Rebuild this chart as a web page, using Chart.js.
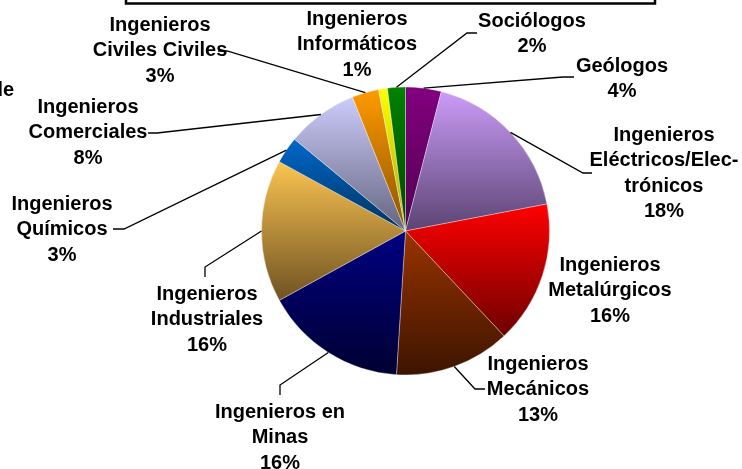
<!DOCTYPE html>
<html lang="es">
<head>
  <meta charset="UTF-8">
  <title>Distribución por profesión</title>
  <script src="https://cdn.jsdelivr.net/npm/chart.js"></script>
  <style>
    html, body { margin: 0; padding: 0; background: #fff; }
    canvas { display: block; }
  </style>
</head>
<body>
  <canvas id="pieChart" width="742" height="469"></canvas>

  <script>
    // Datos (en el sentido de las agujas del reloj desde las 12)
    const categories = [
      ['Geólogos'],
      ['Ingenieros', 'Eléctricos/Elec-', 'trónicos'],
      ['Ingenieros', 'Metalúrgicos'],
      ['Ingenieros', 'Mecánicos'],
      ['Ingenieros en', 'Minas'],
      ['Ingenieros', 'Industriales'],
      ['Ingenieros', 'Químicos'],
      ['Ingenieros', 'Comerciales'],
      ['Ingenieros', 'Civiles Civiles'],
      ['Ingenieros', 'Informáticos'],
      ['Sociólogos']
    ];
    const values = [4, 18, 16, 13, 16, 16, 3, 8, 3, 1, 2];

    // Colores: degradado vertical por sector (arriba claro -> abajo oscuro)
    const colorsTop = ['#82007f', '#cc9cf9', '#ff0000', '#9a3300', '#000082', '#fcc452',
                       '#0068cc', '#ccccfc', '#ff9a00', '#ffff00', '#008200'];
    const colorsBottom = ['#520050', '#5a4472', '#6e0000', '#3c1400', '#000032', '#6e5222',
                          '#00335e', '#64647e', '#8a5200', '#a8a800', '#004400'];

    // Posición de las etiquetas: centro x, primera línea base
    const labelPos = [[622, 72], [664, 141], [610, 271], [538, 370], [280, 418], [207, 300],
                      [62, 210], [88, 113], [160, 31], [357, 25], [532, 27]];
    // Líneas guía: codo y extremo (null = sin línea)
    const leaders = [
      [[563, 77], [574, 77]],
      [[583, 173], [592, 173]],
      null,
      [[475, 389], [485, 389]],
      [[280, 385], [280, 395]],
      [[205, 267], [205, 277]],
      [[124, 229], [113, 229]],
      [[157, 133], [148, 133]],
      [[227, 51], [218, 51]],
      null,
      [[467, 33], [477, 33]]
    ];

    const FONT = 'bold 20px "Liberation Sans", Arial, sans-serif';
    const LINE_H = 25.3;

    function sliceGradient(ctx) {
      const i = ctx.dataIndex;
      const chart = ctx.chart;
      const area = chart.chartArea;
      if (!area || i === undefined) return colorsTop[i] || '#999';
      const cx = (area.left + area.right) / 2;
      const cy = (area.top + area.bottom) / 2;
      const r = Math.min(area.width, area.height) / 2;
      const total = values.reduce((a, b) => a + b, 0);
      let before = 0;
      for (let k = 0; k < i; k++) before += values[k];
      const a0 = -Math.PI / 2 + before / total * 2 * Math.PI;
      const a1 = a0 + values[i] / total * 2 * Math.PI;
      const ys = [cy, cy + r * Math.sin(a0), cy + r * Math.sin(a1)];
      if (a0 < Math.PI / 2 && a1 > Math.PI / 2) ys.push(cy + r);
      const g = chart.ctx.createLinearGradient(0, Math.min(...ys), 0, Math.max(...ys));
      g.addColorStop(0, colorsTop[i]);
      g.addColorStop(1, colorsBottom[i]);
      return g;
    }

    const framePlugin = {
      id: 'frame',
      beforeDraw(chart) {
        const c = chart.ctx;
        c.save();
        c.strokeStyle = '#000';
        c.lineWidth = 2.5;
        c.strokeRect(126, -10, 529, 13.5);
        // trozo de texto recortado a la izquierda
        c.font = FONT;
        c.fillStyle = '#000';
        c.textAlign = 'right';
        c.textBaseline = 'alphabetic';
        c.fillText('de', 14, 96);
        c.restore();
      }
    };

    const labelsPlugin = {
      id: 'pieLabels',
      afterDatasetsDraw(chart) {
        const c = chart.ctx;
        const meta = chart.getDatasetMeta(0);
        c.save();
        c.strokeStyle = '#000';
        c.lineWidth = 1.3;
        meta.data.forEach((arc, i) => {
          const ld = leaders[i];
          if (ld) {
            const p = arc.getProps(['x', 'y', 'startAngle', 'endAngle', 'outerRadius'], true);
            const mid = (p.startAngle + p.endAngle) / 2;
            c.beginPath();
            c.moveTo(p.x + p.outerRadius * Math.cos(mid), p.y + p.outerRadius * Math.sin(mid));
            c.lineTo(ld[0][0], ld[0][1]);
            c.lineTo(ld[1][0], ld[1][1]);
            c.stroke();
          }
          const lines = categories[i].concat([values[i] + '%']);
          c.font = FONT;
          c.fillStyle = '#000';
          c.textAlign = 'center';
          c.textBaseline = 'alphabetic';
          lines.forEach((t, j) => c.fillText(t, labelPos[i][0], labelPos[i][1] + j * LINE_H));
        });
        c.restore();
      }
    };

    new Chart(document.getElementById('pieChart'), {
      type: 'pie',
      data: {
        labels: categories,
        datasets: [{
          data: values,
          backgroundColor: sliceGradient,
          borderColor: 'rgba(255,255,255,0.35)',
          borderWidth: 1
        }]
      },
      options: {
        responsive: false,
        animation: false,
        layout: { padding: { left: 261, right: 192, top: 86, bottom: 93 } },
        plugins: {
          legend: { display: false },
          tooltip: { enabled: false }
        }
      },
      plugins: [framePlugin, labelsPlugin]
    });
  </script>
</body>
</html>
